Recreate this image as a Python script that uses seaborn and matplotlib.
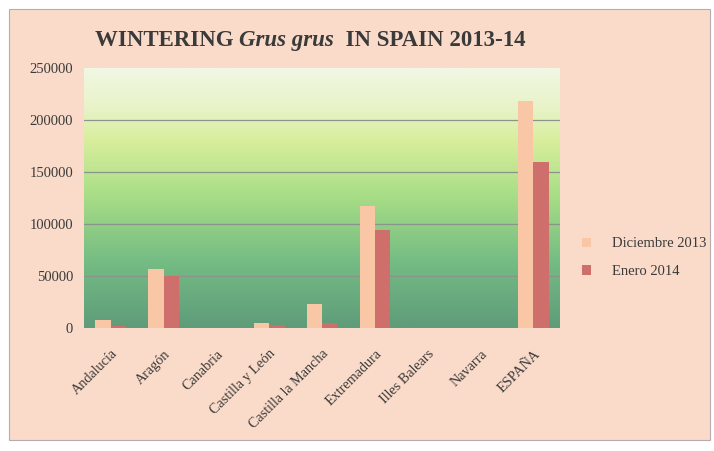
import matplotlib
matplotlib.use("Agg")
import matplotlib.pyplot as plt
import pandas as pd
import numpy as np
import seaborn as sns
from matplotlib.colors import LinearSegmentedColormap
from matplotlib.offsetbox import TextArea, HPacker, AnchoredOffsetbox

regions = ["Andalucía", "Aragón", "Canabria", "Castilla y León", "Castilla la Mancha",
           "Extremadura", "Illes Balears", "Navarra", "ESPAÑA"]
dic_2013 = [8000, 57000, 0, 5000, 23000, 117000, 0, 0, 218000]
ene_2014 = [2000, 50000, 0, 2500, 5000, 94000, 0, 0, 160000]
series = ["Diciembre 2013", "Enero 2014"]

df = pd.DataFrame({
    "region": regions * 2,
    "count": dic_2013 + ene_2014,
    "serie": [series[0]] * len(regions) + [series[1]] * len(regions),
})

sns.set_style("white")
plt.rcParams["font.family"] = ["Liberation Serif", "DejaVu Serif"]

peach = "#fadbc9"
fig = plt.figure(figsize=(7.14, 4.51), dpi=100)
fig.patch.set_facecolor("white")
# page-like background with a thin frame
bg = plt.Rectangle((0.012, 0.025), 0.982, 0.955, transform=fig.transFigure,
                   facecolor=peach, edgecolor="#b9a9b0", lw=0.8, zorder=-10)
fig.add_artist(bg)

ax = fig.add_axes([0.118, 0.273, 0.666, 0.576])
ax.set_zorder(1)
ax.set_facecolor("none")

# green gradient for the plot area
grad = LinearSegmentedColormap.from_list("g", [
    (0.0, "#5f9c7a"), (0.25, "#74bb84"), (0.5, "#a6dc86"),
    (0.72, "#d8ee9c"), (0.85, "#e8f3c8"), (1.0, "#f0f7e4")])
ax.imshow(np.linspace(0, 1, 256).reshape(-1, 1), cmap=grad, aspect="auto",
          extent=[0, 1, 0, 1], transform=ax.transAxes, origin="lower", zorder=0)

sns.barplot(data=df, x="region", y="count", hue="serie", ax=ax,
            palette=["#f9c6a6", "#cf6f6c"], width=0.58, gap=0,
            saturation=1, linewidth=0, zorder=3)

ax.set_ylim(0, 250000)
ax.set_xlim(-0.5, len(regions) - 0.5)
ax.set_yticks([0, 50000, 100000, 150000, 200000, 250000])
ax.set_yticklabels(["0", "50000", "100000", "150000", "200000", "250000"],
                   fontsize=10.5, color="#3a3a3a")
for y in [50000, 100000, 150000, 200000]:
    ax.axhline(y, color="#8a948a", lw=0.9, zorder=1)
ax.set_xticks(range(len(regions)))
ax.set_xticklabels(regions, rotation=45, ha="right", rotation_mode="anchor",
                   fontsize=10.2, color="#3a3a3a")
ax.tick_params(axis="y", length=0, pad=8)
ax.tick_params(axis="x", length=0, pad=14)
ax.set_xlabel("")
ax.set_ylabel("")
for s in ax.spines.values():
    s.set_visible(False)

leg = ax.legend(loc="center left", bbox_to_anchor=(1.02, 0.27), frameon=False,
                fontsize=10.5, handlelength=0.6, handleheight=0.6, labelspacing=1.0,
                handletextpad=1.4)
for t in leg.get_texts():
    t.set_color("#3a3a3a")

# title with italic species name
props = dict(fontsize=16.5, fontweight="bold", color="#3a3a3a")
parts = [TextArea("WINTERING ", textprops=props),
         TextArea("Grus grus", textprops=dict(props, style="italic")),
         TextArea("  IN SPAIN 2013-14", textprops=props)]
box = HPacker(children=parts, align="baseline", pad=0, sep=0)
anch = AnchoredOffsetbox(loc="center left", child=box, frameon=False,
                         bbox_to_anchor=(0.133, 0.91), bbox_transform=fig.transFigure,
                         pad=0, borderpad=0)
fig.add_artist(anch)

fig.savefig("out.png", dpi=100, facecolor=fig.get_facecolor())
